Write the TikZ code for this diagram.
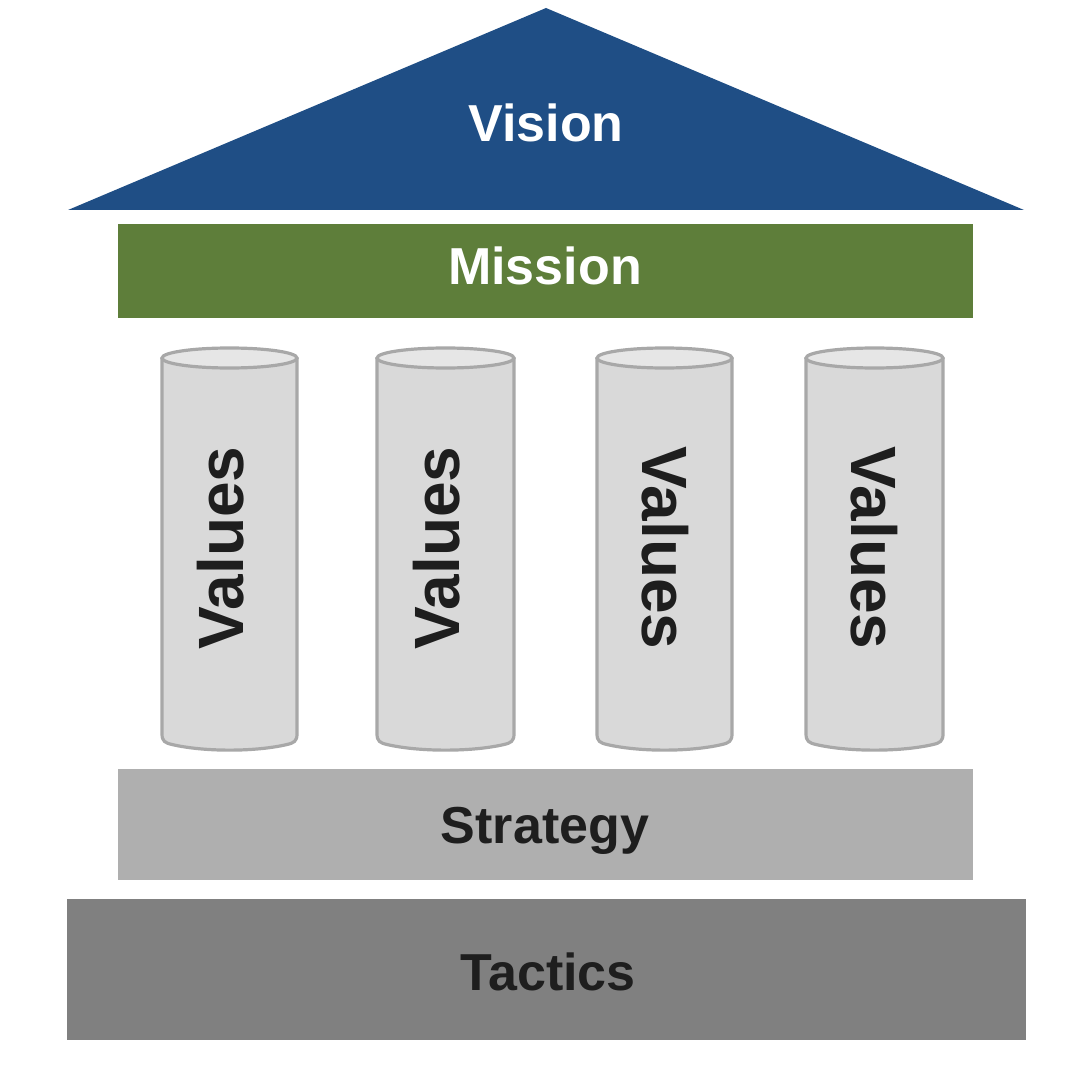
\documentclass[tikz,border=0pt]{standalone}
\usepackage{fontspec}
\setmainfont{Liberation Sans}
\usetikzlibrary{positioning}
\definecolor{roofblue}{HTML}{1F4E85}
\definecolor{missiongreen}{HTML}{5E7E3A}
\definecolor{pillarfill}{HTML}{D9D9D9}
\definecolor{pillartop}{HTML}{E6E6E6}
\definecolor{pillarline}{HTML}{A8A8A8}
\definecolor{strategygray}{HTML}{AFAFAF}
\definecolor{tacticsgray}{HTML}{808080}
\definecolor{darktext}{HTML}{1E1E1E}
\tikzset{
  label/.style   = {font=\bfseries\fontsize{26}{30}\selectfont, inner sep=0pt, anchor=base},
  light/.style   = {label, text=white},
  dark/.style    = {label, text=darktext},
  pillar/.style  = {fill=pillarfill, draw=pillarline, line width=1.6pt},
  value/.style   = {font=\bfseries\fontsize{32}{36}\selectfont, text=darktext, inner sep=0pt}
}
\begin{document}
\begin{tikzpicture}[x=0.5pt,y=-0.5pt]
\useasboundingbox (0,0) rectangle (1080,1080);
% roof
\fill[roofblue] (546,8) -- (1024,210) -- (68,210) -- cycle;
\node[light] (vision) at (546,142) {Vision};
% mission
\fill[missiongreen] (118,224) rectangle (973,318);
\node[light] (mission) at (545,285) {Mission};
% pillars
\foreach \xl/\xr/\rot/\tx [count=\i] in {162/297/90/221, 377/514/90/437, 597/732/-90/665, 806/943/-90/874}{
  \draw[pillar] (\xl,358) -- (\xl,734) .. controls (\xl,741) and (\xl+3,743) .. (\xl+10,744.5)
    .. controls (\xl+42,752) and (\xr-42,752) .. (\xr-10,744.5)
    .. controls (\xr-3,743) and (\xr,741) .. (\xr,734) -- (\xr,358);
  \draw[pillar, fill=pillartop] ({(\xl+\xr)/2},358) ellipse [x radius={(\xr-\xl)/2}, y radius=10];
  \node[value, rotate=\rot] (values\i) at (\tx,548) {Values};
}
% strategy
\fill[strategygray] (118,769) rectangle (973,880);
\node[dark] (strategy) at (545,843) {Strategy};
% tactics
\fill[tacticsgray] (67,899) rectangle (1026,1040);
\node[dark] (tactics) at (548,990) {Tactics};
\end{tikzpicture}
\end{document}
